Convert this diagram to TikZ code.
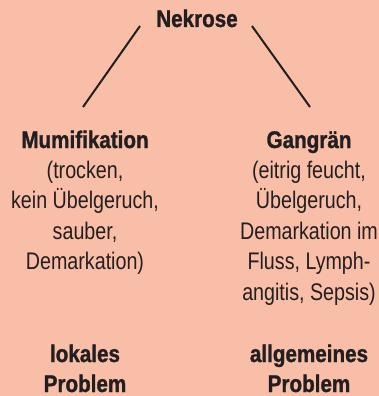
\documentclass[tikz,border=0pt]{standalone}
\usepackage{fontspec}
\setmainfont[FakeStretch=0.82, BoldFeatures={FakeStretch=0.86,FakeBold=1.2}]{Liberation Sans}
\definecolor{bg}{HTML}{F9BEA7}
\definecolor{ink}{HTML}{231F20}
\begin{document}
\begin{tikzpicture}[x=1pt,y=-1pt,
  every node/.style={text=ink, inner sep=0pt, outer sep=0pt},
  head/.style={font=\fontsize{24}{30}\selectfont\bfseries, align=center, anchor=base},
  desc/.style={font=\fontsize{24}{30.5}\selectfont, align=center, anchor=base},
  conn/.style={draw=ink, line width=2pt}]
\fill[bg] (0,0) rectangle (379,396);
\useasboundingbox (0,0) rectangle (379,396);
\node[head] (nek) at (197,27) {Nekrose};
\node[head] (mum) at (85,148) {Mumifikation};
\node[desc] (mumd) at (85,269.5) {(trocken,\\kein Übelgeruch,\\sauber,\\Demarkation)};
\node[head] (lok) at (85,392) {lokales\\Problem};
\node[head] (gan) at (309,148) {Gangrän};
\node[desc] (gand) at (309,300) {(eitrig feucht,\\Übelgeruch,\\Demarkation im\\Fluss, Lymph-\\angitis, Sepsis)};
\node[head] (all) at (309,392) {allgemeines\\Problem};
\coordinate (lt) at (140,26);
\coordinate (lb) at (83,107);
\coordinate (rt) at (252,26);
\coordinate (rb) at (310,107);
\draw[conn] (lt) -- (lb);
\draw[conn] (rt) -- (rb);
\end{tikzpicture}
\end{document}
